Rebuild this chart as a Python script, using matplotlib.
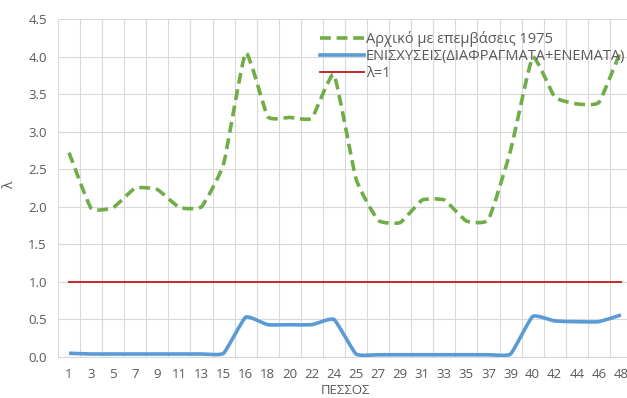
import matplotlib
matplotlib.use("Agg")
import matplotlib.pyplot as plt
from matplotlib.path import Path
from matplotlib.patches import PathPatch
from matplotlib.lines import Line2D
import numpy as np

piers = ["1", "3", "5", "7", "9", "11", "13", "15", "16", "18", "20", "22", "24",
         "25", "27", "29", "31", "33", "35", "37", "39", "40", "42", "44", "46", "48"]
original_1975 = [2.72, 1.98, 1.99, 2.25, 2.23, 1.99, 2.00, 2.57, 4.05, 3.20, 3.19, 3.18, 3.76,
                 2.37, 1.82, 1.79, 2.09, 2.09, 1.81, 1.83, 2.75, 3.99, 3.46, 3.37, 3.39, 4.08]
strengthened = [0.05, 0.04, 0.04, 0.04, 0.04, 0.04, 0.04, 0.05, 0.53, 0.43, 0.43, 0.43, 0.50,
                0.04, 0.03, 0.03, 0.03, 0.03, 0.03, 0.03, 0.04, 0.54, 0.48, 0.47, 0.47, 0.56]
lambda_one = [1.0] * len(piers)

label_green = "Αρχικό με επεμβάσεις 1975"
label_blue = "ΕΝΙΣΧΥΣΕΙΣ(ΔΙΑΦΡΑΓΜΑΤΑ+ΕΝΕΜΑΤΑ)"
label_red = "λ=1"

plt.rcParams['font.family'] = ['Open Sans', 'DejaVu Sans']

W, H = 627, 398
fig = plt.figure(figsize=(W / 100, H / 100), dpi=100)
ax = fig.add_axes([58 / W, (H - 357) / H, (632 - 58) / W, (357 - 19) / H])

def smooth_path(xs, ys, k=0.07):
    xs = np.asarray(xs, float)
    ys = np.asarray(ys, float)
    n = len(xs)
    verts = [(xs[0], ys[0])]
    codes = [Path.MOVETO]
    for i in range(n - 1):
        p0 = np.array([xs[max(i - 1, 0)], ys[max(i - 1, 0)]])
        p1 = np.array([xs[i], ys[i]])
        p2 = np.array([xs[i + 1], ys[i + 1]])
        p3 = np.array([xs[min(i + 2, n - 1)], ys[min(i + 2, n - 1)]])
        c1 = p1 + (p2 - p0) * k
        c2 = p2 - (p3 - p1) * k
        verts += [tuple(c1), tuple(c2), tuple(p2)]
        codes += [Path.CURVE4] * 3
    return Path(verts, codes)

x = np.arange(len(piers))
green = "#70ad47"
blue = "#5b9bd5"
red = "#c8282a"

ax.add_patch(PathPatch(smooth_path(x, original_1975), fill=False, edgecolor=green,
                       lw=2.6, linestyle=(0, (3, 1.6)), capstyle="butt", zorder=3))
ax.add_patch(PathPatch(smooth_path(x, strengthened), fill=False, edgecolor=blue,
                       lw=2.6, zorder=3))
ax.plot(x, lambda_one, color=red, lw=1.4, zorder=3)

ax.set_xlim(-0.5, len(piers) - 0.5)
ax.set_ylim(0, 4.5)
ax.set_yticks(np.arange(0, 4.51, 0.5))
ax.set_yticklabels([f"{v:.1f}" for v in np.arange(0, 4.51, 0.5)])
ax.set_xticks(x)
ax.set_xticklabels(piers)
ax.set_xticks(np.arange(-0.5, len(piers), 1), minor=True)

ax.grid(True, axis="y", which="major", color="#d9d9d9", lw=0.8)
ax.grid(True, axis="x", which="minor", color="#d9d9d9", lw=0.8)
ax.grid(False, axis="x", which="major")
ax.set_axisbelow(True)
for s in ["top", "right", "left"]:
    ax.spines[s].set_visible(False)
ax.spines["bottom"].set_color("#d9d9d9")
ax.spines["bottom"].set_linewidth(0.8)
ax.tick_params(axis="both", which="both", length=0, labelsize=9.5, colors="#595959")
ax.tick_params(axis="x", pad=8)
ax.tick_params(axis="y", pad=8)

ax.set_xlabel("ΠΕΣΣΟΣ", fontsize=9.5, color="#595959", labelpad=2)
fig.text(10 / W, 1 - 185 / H, "λ", rotation=90, fontsize=10, color="#595959",
         ha="center", va="center")

handles = [Line2D([], [], color=green, lw=2.6, linestyle=(0, (3, 1.6))),
           Line2D([], [], color=blue, lw=2.6),
           Line2D([], [], color=red, lw=1.4)]
leg = ax.legend(handles, [label_green, label_blue, label_red], loc="upper left",
                bbox_to_anchor=(320 / W, 1 - 31 / H), bbox_transform=fig.transFigure,
                frameon=False, fontsize=10.5, handlelength=3.0, handletextpad=0.15,
                labelspacing=0.15, borderpad=0, borderaxespad=0)
for t in leg.get_texts():
    t.set_color("#595959")

fig.savefig("out.png", dpi=100)
